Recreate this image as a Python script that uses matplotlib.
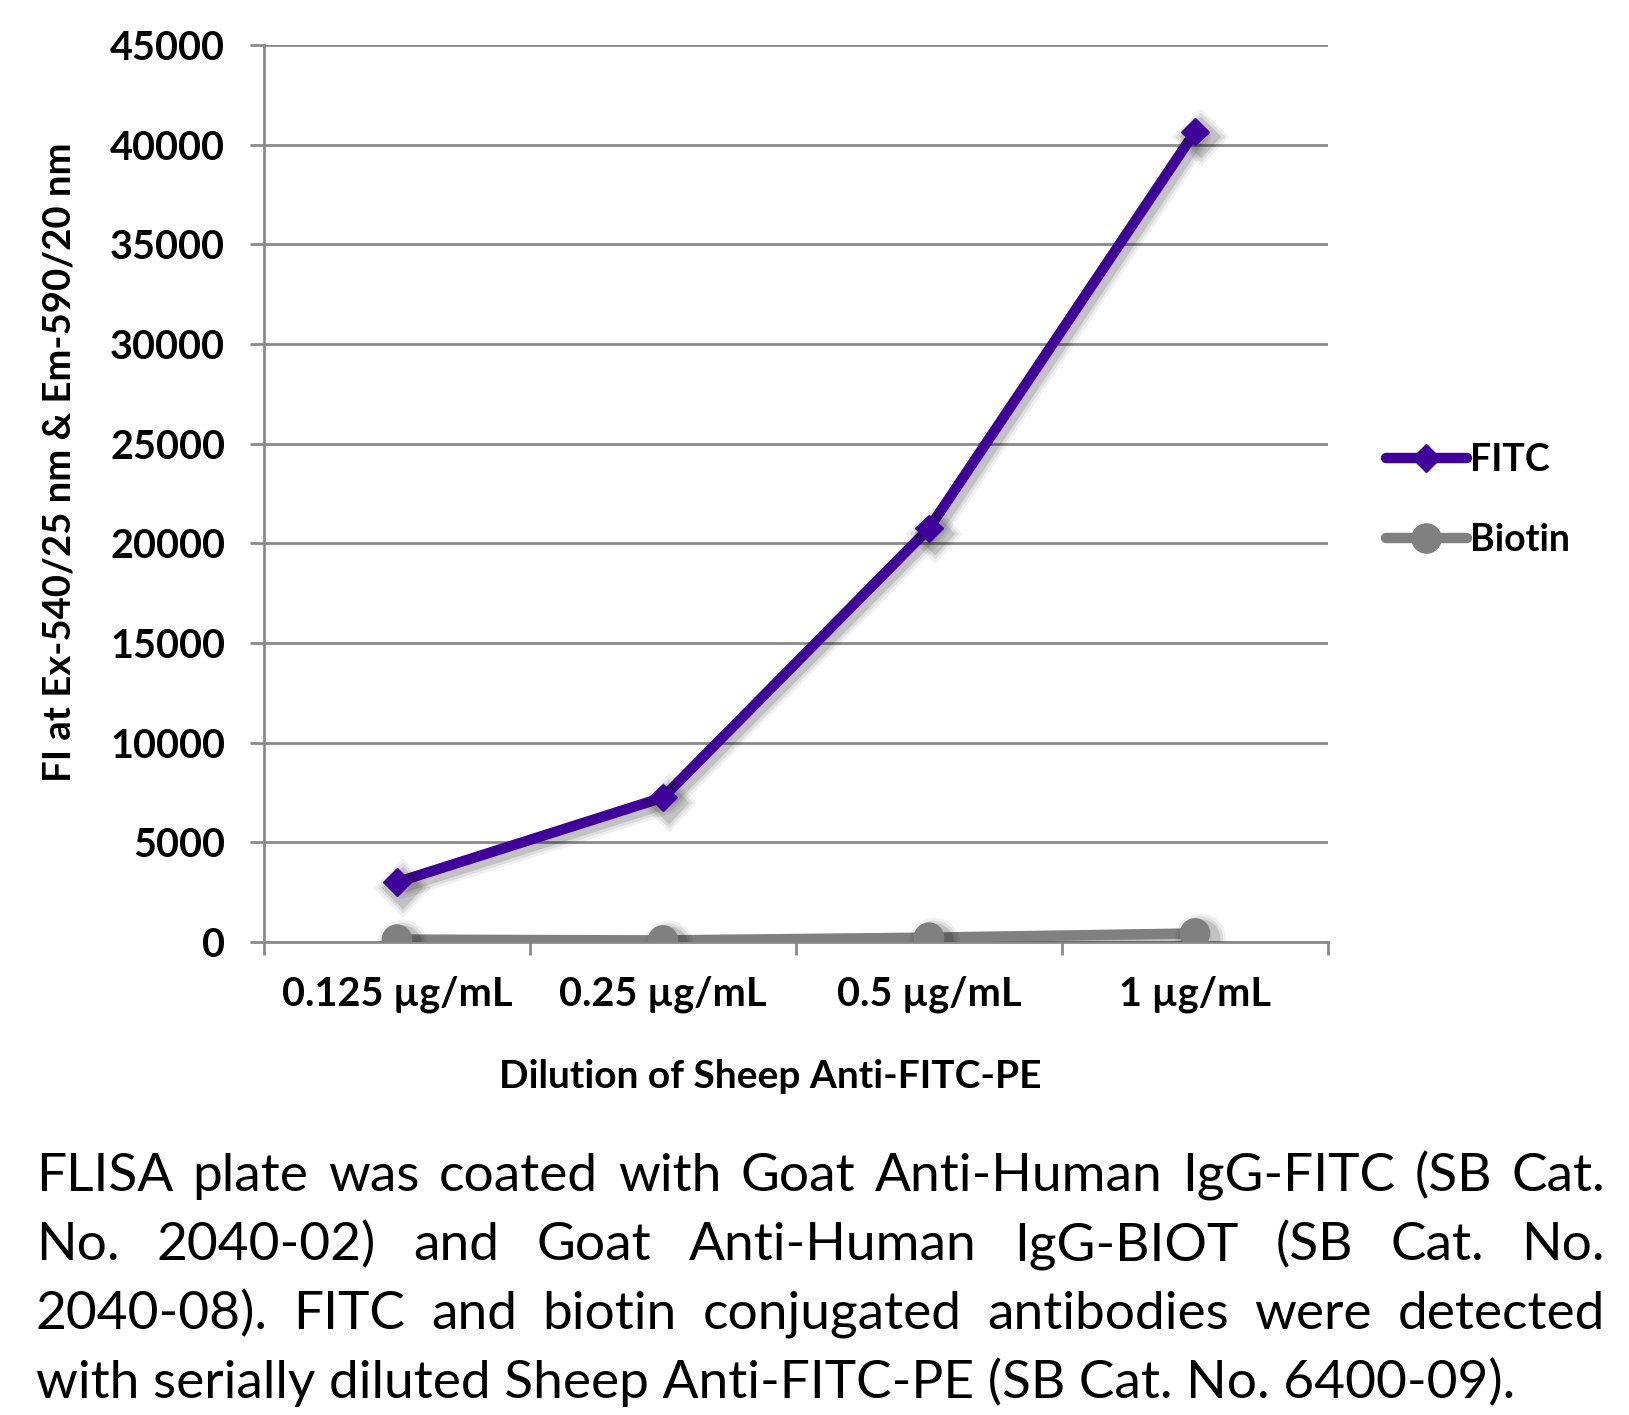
import matplotlib
matplotlib.use("Agg")
import matplotlib.pyplot as plt
import matplotlib.patheffects as pe
import numpy as np

# data
categories = ["0.125 µg/mL", "0.25 µg/mL", "0.5 µg/mL", "1 µg/mL"]
fitc = [3000, 7250, 20750, 40650]
biotin = [120, 80, 220, 430]
y_ticks = [0, 5000, 10000, 15000, 20000, 25000, 30000, 35000, 40000, 45000]

caption_lines = [
    "FLISA plate was coated with Goat Anti-Human IgG-FITC (SB Cat.",
    "No. 2040-02) and Goat Anti-Human IgG-BIOT (SB Cat. No.",
    "2040-08).  FITC and biotin conjugated antibodies were detected",
    "with serially diluted Sheep Anti-FITC-PE (SB Cat. No. 6400-09).",
]

W, H = 1629, 1415
FONT = "Lato"
purple = "#40009A"
grey_line = "#808080"
grid_c = "#8A8A8A"

fig = plt.figure(figsize=(W / 100, H / 100), dpi=100)
ax = fig.add_axes([264 / W, 1 - 942 / H, (1328 - 264) / W, (942 - 45) / H])

x = np.arange(len(categories))

def shadow(lw):
    return [
        pe.SimpleLineShadow(offset=(4, -4), shadow_color="k", alpha=0.06, linewidth=lw + 8),
        pe.SimpleLineShadow(offset=(4, -4), shadow_color="k", alpha=0.08, linewidth=lw + 4),
        pe.SimpleLineShadow(offset=(4, -4), shadow_color="k", alpha=0.12, linewidth=lw),
        pe.Normal(),
    ]

ax.plot(x, biotin, color=grey_line, lw=7.5, marker="o", ms=21, mec=grey_line,
        solid_capstyle="round", label="Biotin", path_effects=shadow(7.5), zorder=3)
ax.plot(x, fitc, color=purple, lw=7.5, marker="D", ms=14, mec=purple,
        solid_capstyle="round", label="FITC", path_effects=shadow(7.5), zorder=4)

ax.set_xlim(-0.5, 3.5)
ax.set_ylim(0, 45000)
ax.set_yticks(y_ticks)
ax.set_yticklabels([str(v) for v in y_ticks], fontfamily=FONT, fontweight="bold", fontsize=28.5)
ax.set_xticks(x)
ax.set_xticklabels(categories, fontfamily=FONT, fontweight="bold", fontsize=28.5)
ax.set_xticks(np.arange(-0.5, 4, 1), minor=True)
ax.tick_params(axis="x", which="major", length=0, pad=24)
ax.tick_params(axis="x", which="minor", length=9, width=2, color=grid_c, direction="out")
ax.tick_params(axis="y", length=10, width=2, color=grid_c, direction="out", pad=18)

ax.grid(axis="y", color=grid_c, lw=2)
ax.set_axisbelow(True)
for s in ["top", "right"]:
    ax.spines[s].set_visible(False)
for s in ["left", "bottom"]:
    ax.spines[s].set_color(grid_c)
    ax.spines[s].set_linewidth(2)

# legend to the right of the plot
handles, labels = ax.get_legend_handles_labels()
leg = fig.legend(handles[::-1], labels[::-1], loc="center left",
                 bbox_to_anchor=(1386 / W, 1 - 500 / H), frameon=False,
                 prop={"family": FONT, "weight": "bold", "size": 27},
                 handlelength=2.15, handletextpad=0.08, labelspacing=1.22,
                 borderpad=0, borderaxespad=0)
for line in leg.get_lines():
    line.set_path_effects([])

fig.text(60 / W, 1 - 462 / H, "FI at Ex-540/25 nm & Em-590/20 nm", rotation=90,
         ha="center", va="center", fontfamily=FONT, fontweight="bold", fontsize=27.5)
fig.text(770 / W, 1 - 1076 / H, "Dilution of Sheep Anti-FITC-PE", ha="center",
         va="center", fontfamily=FONT, fontweight="bold", fontsize=28)

# justified caption
left, right = 36, 1605
baselines = [1191, 1260, 1329, 1398]
cap_size = 38.3
fig.canvas.draw()
renderer = fig.canvas.get_renderer()
for i, line in enumerate(caption_lines):
    yy = 1 - baselines[i] / H
    if i == len(caption_lines) - 1:
        fig.text(left / W, yy, line, ha="left", va="baseline",
                 fontfamily=FONT, fontsize=cap_size)
        continue
    words = line.split()
    texts = [fig.text(0, yy, w, ha="left", va="baseline", fontfamily=FONT,
                      fontsize=cap_size) for w in words]
    widths = [t.get_window_extent(renderer).width for t in texts]
    gap = (right - left - sum(widths)) / (len(words) - 1)
    pos = left
    for t, w in zip(texts, widths):
        t.set_x(pos / W)
        pos += w + gap

fig.savefig("out.png", dpi=100)
